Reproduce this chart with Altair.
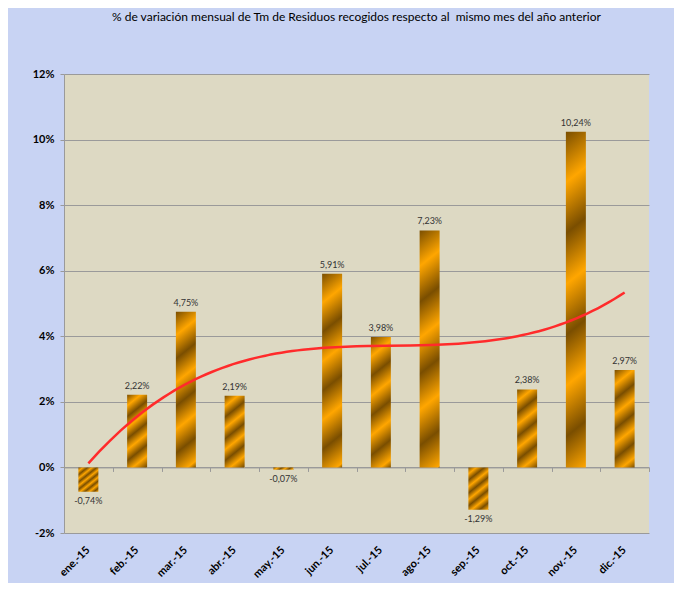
import altair as alt
import pandas as pd

months = ["ene.-15", "feb.-15", "mar.-15", "abr.-15", "may.-15", "jun.-15",
          "jul.-15", "ago.-15", "sep.-15", "oct.-15", "nov.-15", "dic.-15"]
values = [-0.74, 2.22, 4.75, 2.19, -0.07, 5.91, 3.98, 7.23, -1.29, 2.38, 10.24, 2.97]
labels = [f"{v:.2f}".replace(".", ",") + "%" for v in values]
y_ticks = [-2, 0, 2, 4, 6, 8, 10, 12]

df = pd.DataFrame({"mes": months, "v": values, "idx": list(range(1, 13)), "label": labels})

W, H = 585, 459
Y_MIN, Y_MAX = -2, 12
PX_PER_UNIT = H / (Y_MAX - Y_MIN)
DARK, LIGHT = "#7A4E00", "#FFA600"
GRID = "#9A9A9A"
FONT = "Lato"


def stripe_gradient(v):
    h = max(abs(v) * PX_PER_UNIT, 1.0)
    s = 16.0
    k = (s + h) / (s * s + h * h)
    period = max(h / 3.3, 7.0)
    total = s + h
    half = period / 2.0
    stops = []
    n = 0
    c = 0.0
    while c <= total + half:
        off = min(c / total, 1.0)
        stops.append(alt.GradientStop(color=DARK if n % 2 == 0 else LIGHT, offset=off))
        if off >= 1.0:
            break
        n += 1
        c += half
    return alt.LinearGradient(gradient="linear", stops=stops,
                              x1=0, y1=0, x2=s * k, y2=h * k)


X = alt.X("mes:N", sort=months,
          scale=alt.Scale(domain=months, paddingInner=0.59, paddingOuter=0.295),
          axis=alt.Axis(orient="bottom", title=None, labelAngle=-45, labelAlign="right",
                        labelBaseline="middle", labelPadding=15, ticks=False, domain=False,
                        labelFont=FONT, labelFontSize=11, labelFontWeight="bold",
                        labelColor="#000000", grid=False))
Y = alt.Y("v:Q", scale=alt.Scale(domain=[Y_MIN, Y_MAX], nice=False, zero=False),
          axis=alt.Axis(title=None, values=y_ticks, labelExpr="datum.value + '%'",
                        grid=True, gridColor=GRID, gridWidth=1,
                        domainColor=GRID, tickColor=GRID, tickSize=4, labelPadding=6,
                        labelFont=FONT, labelFontSize=11, labelFontWeight="bold",
                        labelColor="#000000"))

base = alt.Chart(df)
bar_layers = []
for m, v in zip(months, values):
    bar_layers.append(
        base.transform_filter(alt.datum.mes == m)
        .mark_bar(color=stripe_gradient(v))
        .encode(x=X, y=Y)
    )

text_pos = base.transform_filter(alt.datum.v >= 0).mark_text(
    baseline="bottom", dy=-4, font=FONT, fontSize=9, color="#333333"
).encode(x=X, y=Y, text="label:N")
text_neg = base.transform_filter(alt.datum.v < 0).mark_text(
    baseline="top", dy=5, font=FONT, fontSize=9, color="#333333"
).encode(x=X, y=Y, text="label:N")

bars = alt.layer(*bar_layers, text_pos, text_neg)

zero_offset = -(0 - Y_MIN) * PX_PER_UNIT
trend = base.transform_regression("idx", "v", method="poly", order=3).mark_line(
    color="#FF2B2B", strokeWidth=2.5
).encode(
    x=alt.X("idx:Q", scale=alt.Scale(domain=[0.5, 12.5], nice=False, zero=False),
            axis=alt.Axis(orient="bottom", title=None, labels=False, grid=False,
                          values=[i + 0.5 for i in range(13)], tickSize=4,
                          tickColor=GRID, domainColor=GRID, offset=zero_offset)),
    y=Y,
)

chart = alt.layer(bars, trend).resolve_scale(x="independent").properties(
    width=W, height=H,
    autosize=alt.AutoSizeParams(type="none"),
    padding={"left": 56, "top": 66, "right": 25, "bottom": 50},
    background="#C8D3F3",
    title=alt.TitleParams(
        "% de variación mensual de Tm de Residuos recogidos respecto al \u00a0mismo mes del año anterior",
        font=FONT, fontSize=12, fontWeight="normal", color="#000000",
        anchor="middle", frame="group", offset=44),
).configure_view(stroke=None, fill="#DDD9C3")

chart.save("out.html", embed_options={"renderer": "svg", "actions": False})
